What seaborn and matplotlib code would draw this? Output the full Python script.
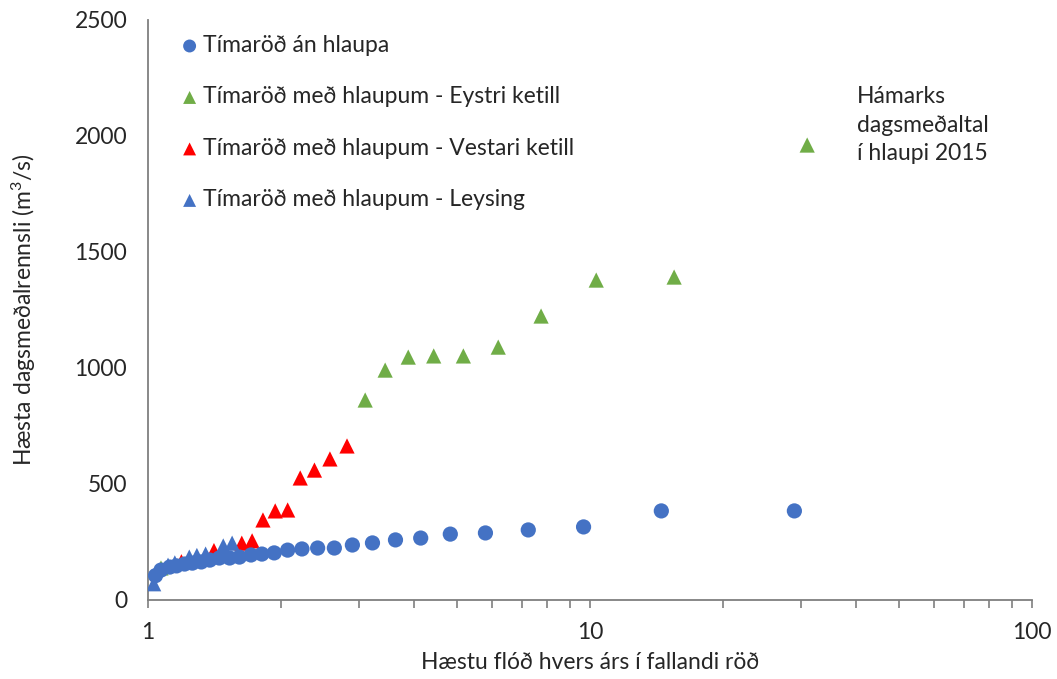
import numpy as np
import pandas as pd
import matplotlib
matplotlib.use("Agg")
import matplotlib.pyplot as plt
import seaborn as sns
from matplotlib.ticker import LogLocator, NullFormatter, FixedLocator, FixedFormatter

# --- data ---
circ_x = [29.0, 14.5, 9.67, 7.25, 5.8, 4.83, 4.14, 3.63, 3.22, 2.9, 2.64, 2.42, 2.23, 2.07,
          1.93, 1.81, 1.71, 1.61, 1.53, 1.45, 1.38, 1.32, 1.26, 1.21, 1.16, 1.12, 1.07, 1.04]
circ_y = [384, 384, 315, 302, 289, 284, 267, 259, 246, 237, 224, 224, 220, 215,
          203, 198, 194, 185, 181, 181, 172, 164, 159, 155, 147, 142, 129, 105]

tri_x = [31.0, 15.5, 10.33, 7.75, 6.2, 5.17, 4.43, 3.88, 3.44, 3.1, 2.82, 2.58, 2.38, 2.21, 2.07,
         1.94, 1.82, 1.72, 1.63, 1.55, 1.48, 1.41, 1.35, 1.29, 1.24, 1.19, 1.15, 1.11, 1.07, 1.03]
tri_y = [1961, 1392, 1379, 1224, 1090, 1052, 1052, 1047, 991, 862, 664, 608, 560, 526, 388,
         384, 345, 255, 245, 245, 233, 213, 198, 192, 185, 165, 160, 150, 138, 70]
tri_type = ["E"] * 10 + ["V"] * 9 + ["L", "L", "V", "L", "L", "L", "V", "L", "L", "E", "L"]

labels = {
    "C": "Tímaröð án hlaupa",
    "E": "Tímaröð með hlaupum - Eystri ketill",
    "V": "Tímaröð með hlaupum - Vestari ketill",
    "L": "Tímaröð með hlaupum - Leysing",
}
colors = {"C": "#4472C4", "E": "#70AD47", "V": "#FF0000", "L": "#4472C4"}

annot_text = "Hámarks\ndagsmeðaltal\ní hlaupi 2015"
xlabel = "Hæstu flóð hvers árs í fallandi röð"
ylabel = "Hæsta dagsmeðalrennsli (m$^3$/s)"

FS = 16.5
TXT = "#262626"

sns.set_theme(style="white")
plt.rcParams["font.family"] = ["Lato", "DejaVu Sans"]
plt.rcParams["mathtext.fontset"] = "custom"
plt.rcParams["mathtext.rm"] = "Lato"
plt.rcParams["mathtext.it"] = "Lato"

fig = plt.figure(figsize=(10.57, 6.79), dpi=100)
ax = fig.add_axes([148 / 1057, 1 - 600 / 679, (1032 - 148) / 1057, 580 / 679])

df_c = pd.DataFrame({"x": circ_x, "y": circ_y})
df_t = pd.DataFrame({"x": tri_x, "y": tri_y, "t": tri_type})

sns.scatterplot(data=df_c, x="x", y="y", ax=ax, color=colors["C"], marker="o", s=120,
                edgecolor="none", label=labels["C"], zorder=5)
for key in ["E", "V", "L"]:
    sub = df_t[df_t["t"] == key]
    sns.scatterplot(data=sub, x="x", y="y", ax=ax, color=colors[key], marker="^", s=120,
                    edgecolor="none", label=labels[key], zorder=3)

ax.set_xscale("log")
ax.set_xlim(1, 100)
ax.set_ylim(0, 2500)
ax.set_yticks([0, 500, 1000, 1500, 2000, 2500])
ax.xaxis.set_major_locator(FixedLocator([1, 10, 100]))
ax.xaxis.set_major_formatter(FixedFormatter(["1", "10", "100"]))
ax.xaxis.set_minor_locator(LogLocator(base=10, subs=np.arange(2, 10)))
ax.xaxis.set_minor_formatter(NullFormatter())

for s in ["top", "right"]:
    ax.spines[s].set_visible(False)
for s in ["left", "bottom"]:
    ax.spines[s].set_color("#7f7f7f")
    ax.spines[s].set_linewidth(1.3)

ax.tick_params(axis="x", which="both", direction="out", length=6, width=1.2,
               color="#7f7f7f", bottom=True, labelsize=FS, pad=10, labelcolor=TXT)
ax.tick_params(axis="y", which="both", length=0, labelsize=FS, pad=15, labelcolor=TXT)

ax.set_xlabel(xlabel, fontsize=FS, color=TXT, labelpad=6)
ax.set_ylabel(ylabel, fontsize=FS, color=TXT, labelpad=26)

fig.text(857 / 1057, 1 - 125 / 679, annot_text, fontsize=FS, color=TXT,
         va="center", ha="left", linespacing=1.45)

leg = ax.legend(loc="upper left", bbox_to_anchor=(177 / 1057, 1 - 35 / 679),
                bbox_transform=fig.transFigure, frameon=False, fontsize=FS,
                handletextpad=0.05, labelspacing=1.33, markerscale=0.85,
                handlelength=1.1, borderaxespad=0, borderpad=0)
for t in leg.get_texts():
    t.set_color(TXT)

fig.savefig("out.png", dpi=100)
